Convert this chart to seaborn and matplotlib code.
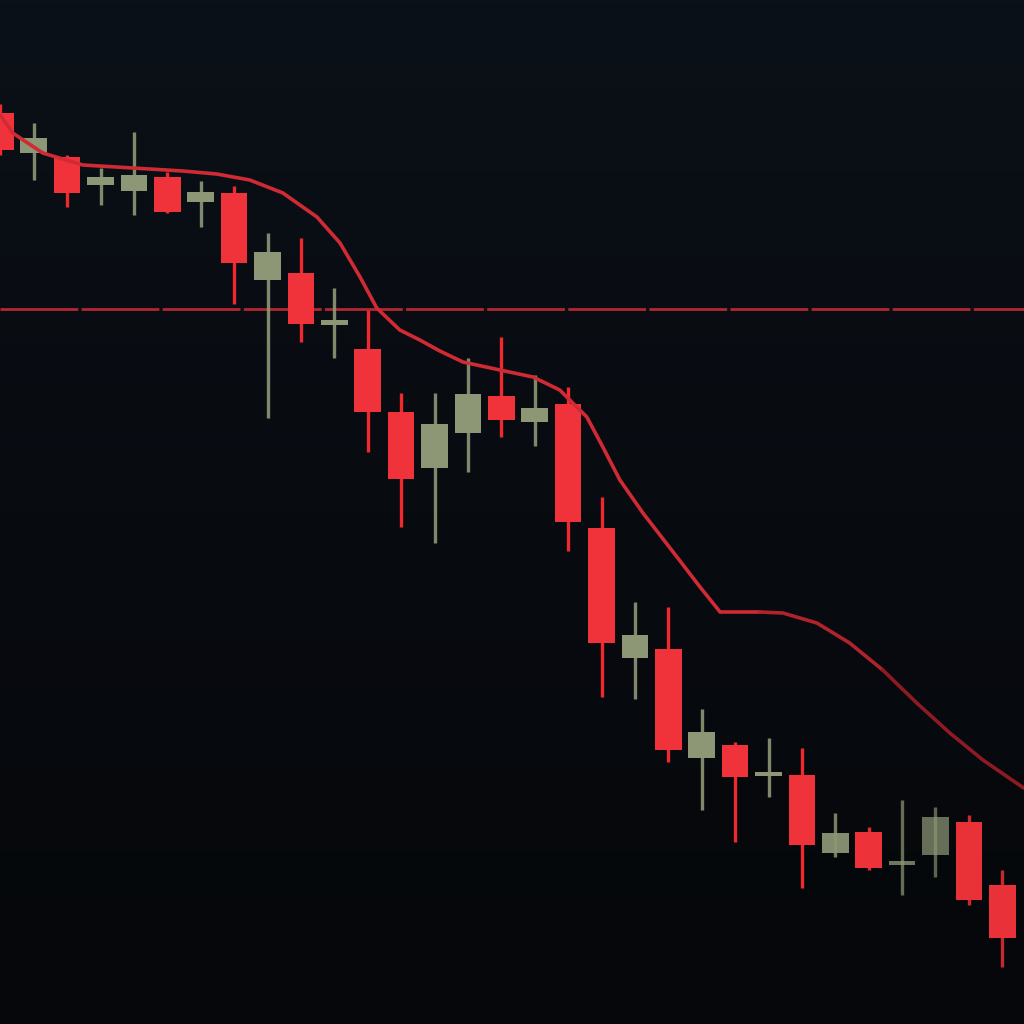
import numpy as np
import pandas as pd
import matplotlib
matplotlib.use("Agg")
import matplotlib.pyplot as plt
import seaborn as sns

# ---- data (price units) ----
opens  = [91.1, 87.1, 86.7, 83.9, 83.3, 84.7, 82.2, 83.1, 74.4, 75.1, 69.9,
          67.5, 61.2, 55.6, 59.1, 62.8, 60.2, 62.0, 49.6, 36.6, 37.5, 26.6,
          27.9, 24.8, 24.9, 17.1, 19.2, 15.9, 16.9, 20.2, 13.9]
closes = [87.4, 88.6, 83.1, 84.7, 84.9, 81.2, 83.2, 76.1, 77.2, 70.0, 70.4,
          61.2, 54.5, 60.0, 63.0, 60.4, 61.6, 50.2, 38.1, 38.9, 27.4, 29.2,
          24.7, 25.2, 17.9, 19.1, 15.6, 16.3, 20.7, 12.4, 8.6]
highs  = [92.0, 90.1, 86.9, 85.6, 89.2, 85.2, 84.3, 83.8, 79.1, 78.6, 73.6,
          71.4, 63.1, 63.1, 66.6, 68.7, 64.9, 63.7, 52.7, 42.2, 41.7, 31.5,
          28.2, 28.6, 27.6, 21.1, 19.7, 22.4, 21.7, 20.9, 15.4]
lows   = [86.9, 84.4, 81.7, 81.9, 80.9, 81.1, 79.7, 72.0, 60.6, 68.2, 66.6,
          57.2, 49.7, 48.1, 55.2, 58.7, 57.8, 47.3, 32.7, 32.5, 26.2, 21.4,
          18.2, 22.7, 13.6, 16.7, 15.4, 12.9, 14.7, 11.9, 5.7]

ma_t     = [0.0, 0.37, 1.27, 2.47, 3.97, 5.46, 6.48, 7.47, 8.46, 9.48, 10.17,
            10.77, 11.27, 11.96, 12.56, 13.16, 13.85, 14.96, 15.95, 16.75,
            17.56, 18.04, 18.55, 19.24, 20.26, 20.95, 21.55, 22.74, 23.43,
            24.45, 25.43, 26.42, 27.44, 28.43, 29.42, 30.64]
ma_price = [90.9, 89.1, 87.1, 85.9, 85.6, 85.3, 85.0, 84.4, 83.1, 80.7, 78.1,
            74.7, 71.6, 69.4, 68.4, 67.3, 66.2, 65.4, 64.7, 63.4, 60.7, 57.7,
            54.4, 51.1, 46.7, 43.7, 41.2, 41.2, 41.1, 40.1, 38.1, 35.4, 32.1,
            29.1, 26.4, 23.6]

level = 71.5

# ---- style ----
BG = "#090c11"
RED = "#f0333a"
GREEN = "#8d9776"

sns.set_theme(style="dark")
plt.rcParams["font.family"] = ["DejaVu Sans"]

fig = plt.figure(figsize=(10.24, 10.24), dpi=100, facecolor=BG)
ax = fig.add_axes([0, 0, 1, 1])
ax.set_facecolor(BG)

# subtle vertical background gradient
grad = np.linspace(0, 1, 256).reshape(-1, 1)
cmap = matplotlib.colors.LinearSegmentedColormap.from_list(
    "bg", ["#0b1118", "#080b10", "#05070a"])
ax.imshow(grad, extent=[-0.01, 30.65, 0, 102.4], aspect="auto", cmap=cmap,
          origin="upper", zorder=0)

df = pd.DataFrame({"o": opens, "c": closes, "h": highs, "l": lows})
df["t"] = np.arange(len(df))
df["up"] = df["c"] >= df["o"]

# depth-of-field dimming toward the right edge (muted greens, darker red wicks)
fade = np.clip(1.0 - (df["t"] - 24) * 0.07, 0.55, 1.0).to_numpy()
body_cols, wick_cols = [], []
for u, a in zip(df["up"], fade):
    if u:
        r, g, b = matplotlib.colors.to_rgb(GREEN)
        body_cols.append((r, g, b, a))
        wick_cols.append((r, g, b, a * 0.9))
    else:
        r, g, b = matplotlib.colors.to_rgb(RED)
        k = 0.92 + 0.08 * a
        body_cols.append((r * k, g * k, b * k, 1.0))
        wick_cols.append((r * (0.55 + 0.45 * a), g * 0.8, b * 0.8, 1.0))

# horizontal level line
ax.axhline(level, color="#c42a35", lw=2.0, ls=(0, (28, 1.2)), alpha=0.9, zorder=1)

# wicks
ax.vlines(df["t"], df["l"], df["h"], colors=wick_cols, lw=2.4, zorder=2)

# bodies
bottom = np.minimum(df["o"], df["c"])
height = np.maximum(np.abs(df["c"] - df["o"]), 0.45)
ax.bar(df["t"], height, bottom=bottom, width=0.8, color=body_cols,
       edgecolor="none", zorder=3)

# moving average line (colour darkens toward the blurred right side)
ma = pd.DataFrame({"t": ma_t, "p": ma_price})
zones = [(-1, 22.8, "#d02a34"), (22.74, 26.5, "#b0222c"), (26.42, 31, "#8e1a24")]
for lo, hi, col in zones:
    seg = ma[(ma["t"] >= lo) & (ma["t"] <= hi)]
    sns.lineplot(data=seg, x="t", y="p", ax=ax, color=col, lw=2.6, zorder=4,
                 estimator=None, sort=False, solid_capstyle="round")

ax.set_xlim(-0.01, 30.65)
ax.set_ylim(0, 102.4)
ax.set_axis_off()

fig.savefig("out.png", dpi=100, facecolor=BG)
